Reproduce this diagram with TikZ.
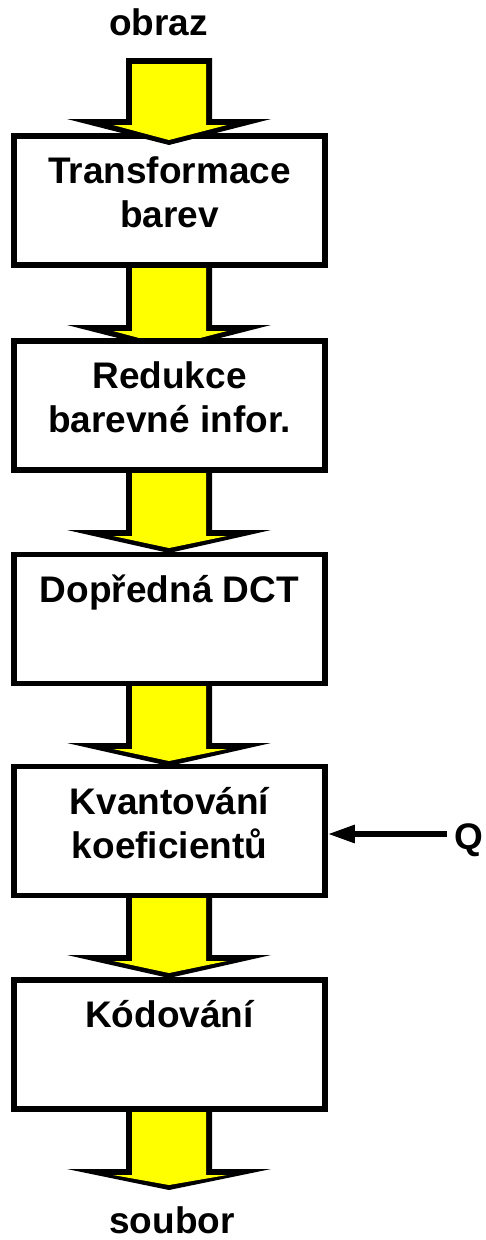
\documentclass[tikz,border=0pt]{standalone}
\usepackage{fontspec}
\setmainfont{Liberation Sans}
\usetikzlibrary{arrows.meta}
\definecolor{arrowyellow}{RGB}{255,255,0}
% fat yellow arrow: #1 shaft top, #2 head base, #3 tip
\newcommand{\fatarrow}[3]{%
  \fill[black] (126,#1) -- (212,#1) -- (212,#2) -- (271,#2) -- (169,#3) -- (67,#2) -- (126,#2) -- cycle;
  \fill[arrowyellow] (132,{#1+6}) -- (206,{#1+6}) -- (206,{#2+6}) -- (227,{#2+6}) -- (169,{#3-5}) -- (113,{#2+6}) -- (132,{#2+6}) -- cycle;
}
\begin{document}
\begin{tikzpicture}[x=1bp,y=-1bp,
  every node/.style={font=\fontsize{37bp}{44bp}\selectfont\bfseries, inner sep=0pt},
  stage/.style={draw=black, line width=5.5bp, fill=white, minimum width=311bp, minimum height=129bp},
  lbl/.style={align=center, anchor=base},
  qarrow/.style={line width=5.5bp, -{Triangle[length=27bp,width=17bp]}}]
\useasboundingbox (0,0) rectangle (486,1240);
\fill[white] (0,0) rectangle (486,1240);
% arrows behind boxes
\fatarrow{255}{325}{351}
\fatarrow{460}{530}{553}
\fatarrow{672}{743}{766}
\fatarrow{885}{955}{978}
\fatarrow{1099}{1169}{1190}
% boxes
\node[stage] (b1) at (169.5,200.5) {};
\node[stage] (b2) at (169.5,405.5) {};
\node[stage] (b3) at (169.5,619) {};
\node[stage] (b4) at (169.5,831) {};
\node[stage] (b5) at (169.5,1044.5) {};
% first arrow overlaps top box
\fatarrow{58}{119}{145}
% texts (base anchor = baseline of the last line)
\node[lbl] (t1) at (169.5,227) {Transformace\\barev};
\node[lbl] (t2) at (169.5,432) {Redukce\\barevné infor.};
\node[lbl] (t3) at (169.5,602) {Dopředná DCT};
\node[lbl] (t4) at (169.5,858) {Kvantování\\koeficientů};
\node[lbl] (t5) at (169.5,1027) {Kódování};
\node[anchor=base] (in) at (158.5,35) {obraz};
\node[anchor=base] (out) at (172,1233) {soubor};
\node[anchor=base] (q) at (469,849) {Q};
\coordinate (qs) at (447,834);
\draw[qarrow] (qs) -- (qs -| b4.east);
\end{tikzpicture}
\end{document}
